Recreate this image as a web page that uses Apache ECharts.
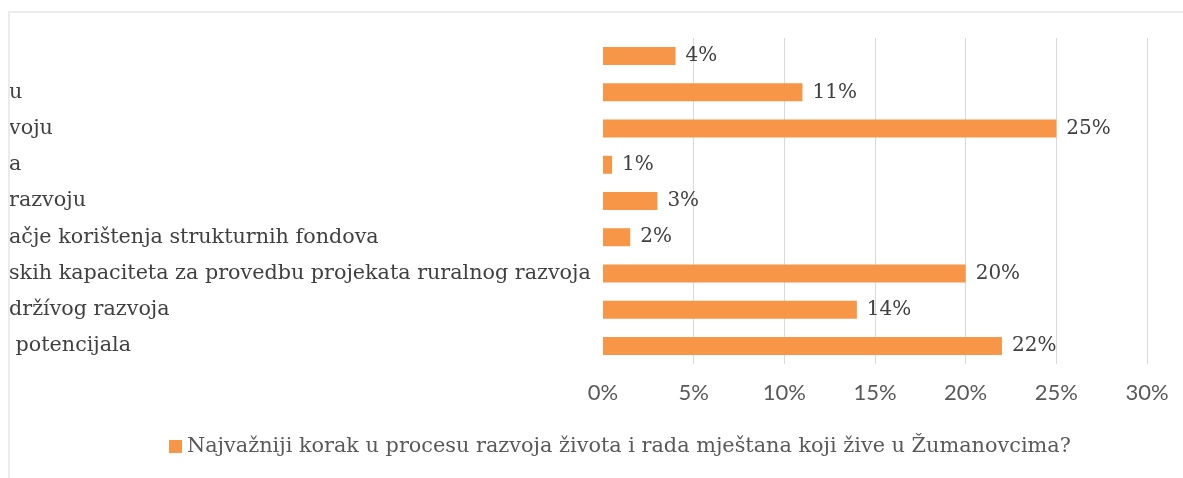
<!DOCTYPE html>
<html>
<head>
<meta charset="utf-8">
<script src="https://cdn.jsdelivr.net/npm/echarts@6/dist/echarts.min.js"></script>
<style>
html, body { margin: 0; padding: 0; background: #fff; }
#frame { position: absolute; left: 8px; top: 11px; width: 1175px; height: 467px;
  border-left: 2px solid #ebebeb; border-top: 2px solid #ebebeb; }
#chart { width: 1173px; height: 465px; }
</style>
</head>
<body>
<div id="frame"><div id="chart"></div></div>
<script>
// kategorije (lijevi dio teksta je odrezan kao na slici)
var categories = [
  '',
  'u',
  'voju',
  'a',
  'razvoju',
  'ačje korištenja strukturnih fondova',
  'skih kapaciteta za provedbu projekata ruralnog razvoja',
  'držívog razvoja',
  ' potencijala'
];
var values = [4, 11, 25, 0.5, 3, 1.5, 20, 14, 22];
var seriesName = 'Najvažniji korak u procesu razvoja života i rada mještana koji žive u Žumanovcima?';
var xMin = 0, xMax = 30, xStep = 5;

var serif = '"DejaVu Serif", serif';
var myChart = echarts.init(document.getElementById('chart'));

var option = {
  backgroundColor: '#fff',
  animation: false,
  grid: { left: 593, width: 544, top: 25, height: 326, outerBoundsMode: 'none', containLabel: false },
  legend: {
    data: [seriesName],
    left: 154,
    top: 418,
    icon: 'rect',
    itemWidth: 13,
    itemHeight: 13,
    textStyle: { fontFamily: serif, fontSize: 20.8, color: '#595959' }
  },
  xAxis: {
    type: 'value',
    min: xMin,
    max: xMax,
    interval: xStep,
    axisLine: { show: false },
    axisTick: { show: false },
    axisLabel: {
      formatter: '{value}%',
      color: '#595959',
      fontFamily: 'Lato',
      fontSize: 22,
      margin: 18
    },
    splitLine: { showMinLine: false, lineStyle: { color: '#d9d9d9', width: 1 } }
  },
  yAxis: {
    type: 'category',
    inverse: true,
    data: categories,
    axisLine: { show: false },
    axisTick: { show: false },
    axisLabel: {
      interval: 0,
      align: 'left',
      margin: 594,
      color: '#404040',
      fontFamily: serif,
      fontSize: 20.7
    }
  },
  series: [{
    name: seriesName,
    type: 'bar',
    data: values,
    barWidth: 18,
    itemStyle: { color: '#F79646' },
    label: {
      show: true,
      position: 'right',
      distance: 10,
      formatter: function (p) { return Math.round(p.value) + '%'; },
      color: '#404040',
      fontFamily: serif,
      fontSize: 20
    }
  }]
};
myChart.setOption(option);
</script>
</body>
</html>
